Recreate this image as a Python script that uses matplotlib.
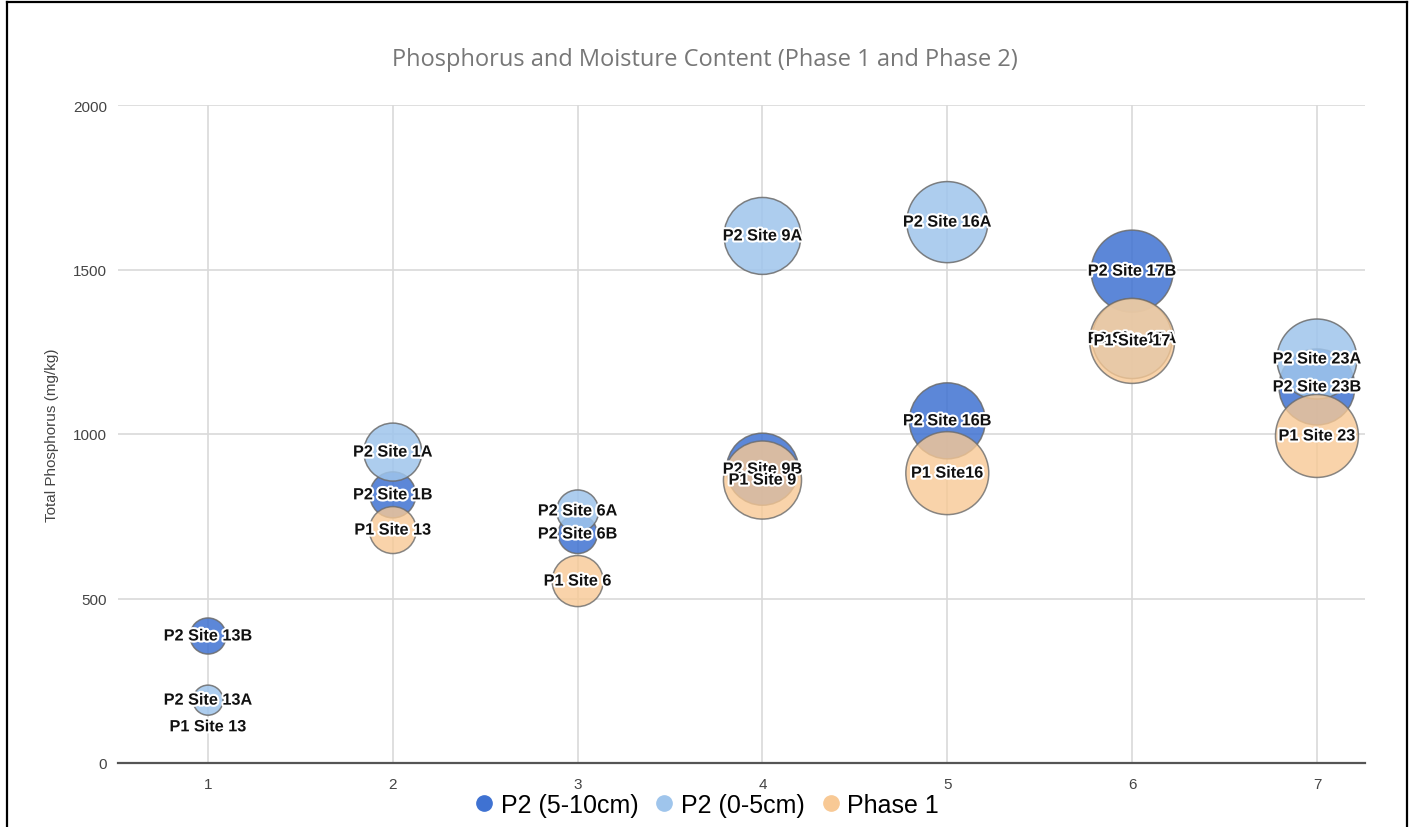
import matplotlib.pyplot as plt
import matplotlib.patheffects as pe
from matplotlib.lines import Line2D

plt.rcParams['font.family'] = ['Liberation Sans', 'DejaVu Sans']

# site slot on the x axis, total phosphorus (mg/kg), moisture content (%), label
p2_deep_x = [1, 2, 3, 4, 5, 6, 7]
p2_deep_p = [386, 815, 696, 893, 1040, 1495, 1143]
p2_deep_m = [18.9, 24.2, 20.5, 38.1, 40.2, 43.4, 40.2]
p2_deep_lbl = ['P2 Site 13B', 'P2 Site 1B', 'P2 Site 6B', 'P2 Site 9B',
               'P2 Site 16B', 'P2 Site 17B', 'P2 Site 23B']

p2_top_x = [1, 2, 3, 4, 5, 6, 7]
p2_top_p = [191, 945, 766, 1602, 1644, 1290, 1228]
p2_top_m = [15.7, 30.6, 22.1, 40.7, 42.9, 42.3, 42.3]
p2_top_lbl = ['P2 Site 13A', 'P2 Site 1A', 'P2 Site 6A', 'P2 Site 9A',
              'P2 Site 16A', 'P2 Site 17A', 'P2 Site 23A']

p1_x = [1, 2, 3, 4, 5, 6, 7]
p1_p = [110, 708, 553, 860, 881, 1283, 994]
p1_m = [5.0, 24.7, 26.9, 41.3, 43.9, 45.0, 43.9]
p1_lbl = ['P1 Site 13', 'P1 Site 13', 'P1 Site 6', 'P1 Site 9',
          'P1 Site16', 'P1 Site 17', 'P1 Site 23']

series = [
    ('P2 (5-10cm)', p2_deep_x, p2_deep_p, p2_deep_m, p2_deep_lbl, '#3f72d2', 0.85),
    ('P2 (0-5cm)', p2_top_x, p2_top_p, p2_top_m, p2_top_lbl, '#9fc5ec', 0.85),
    ('Phase 1', p1_x, p1_p, p1_m, p1_lbl, '#f8c995', 0.8),
]

all_m = p2_deep_m + p2_top_m + p1_m
m_lo, m_hi = min(all_m), max(all_m)
R_MIN, R_MAX = 5, 42.5   # bubble radius in pixels
DPI = 100


def bubble_area(m):
    r = R_MIN + (m - m_lo) / (m_hi - m_lo) * (R_MAX - R_MIN)
    d_pt = 2 * r * 72 / DPI
    return d_pt ** 2


fig = plt.figure(figsize=(14.16, 8.28), dpi=DPI)
ax = fig.add_axes([118 / 1416, 1 - 764 / 828, (1365 - 118) / 1416, (764 - 106) / 828])

handles = []
for i, (name, xs, ys, ms, lbls, col, a) in enumerate(series):
    ax.scatter(xs, ys, s=[bubble_area(m) for m in ms], color=col, alpha=a,
               edgecolors='#6b6b6b', linewidths=1.1, zorder=3 + i)
    handles.append(Line2D([], [], marker='o', ls='', color=col, markersize=11,
                          label=name))

halo = [pe.withStroke(linewidth=3, foreground='white')]
for i, (name, xs, ys, ms, lbls, col, a) in enumerate(series):
    for x, y, t in zip(xs, ys, lbls):
        ax.text(x, y, t, ha='center', va='center', fontsize=11.7,
                fontweight='bold', color='#111111', path_effects=halo,
                zorder=10 + i)

ax.set_xlim(0.513, 7.26)
ax.set_ylim(0, 2000)
ax.set_xticks(range(1, 8))
ax.set_yticks([0, 500, 1000, 1500, 2000])
ax.grid(True, color='#d9d9d9', lw=1.2)
ax.set_axisbelow(True)
for s in ['top', 'right', 'left']:
    ax.spines[s].set_visible(False)
ax.spines['bottom'].set_color('#555555')
ax.spines['bottom'].set_linewidth(1.6)
ax.tick_params(length=0, labelsize=11, colors='#444444', pad=10)
ax.tick_params(axis='y', pad=8)

ax.set_ylabel('Total Phosphorus (mg/kg)', fontsize=11, color='#444444', labelpad=10)
fig.text(705 / 1416, 1 - 60 / 828,
         'Phosphorus and Moisture Content (Phase 1 and Phase 2)',
         ha='center', va='center', fontsize=17, color='#777777',
         family=['Open Sans', 'DejaVu Sans'])

fig.legend(handles=handles, loc='center', bbox_to_anchor=(704 / 1416, 1 - 806 / 828),
           ncol=3, frameon=False, fontsize=18, handletextpad=0.05,
           columnspacing=0.45, borderpad=0, handlelength=1.2)

# outer frame of the screenshot
fig.add_artist(Line2D([7 / 1416, 7 / 1416], [0, 1 - 3 / 828], color='black', lw=1.6))
fig.add_artist(Line2D([1407 / 1416, 1407 / 1416], [0, 1 - 3 / 828], color='black', lw=1.6))
fig.add_artist(Line2D([7 / 1416, 1407 / 1416], [1 - 3 / 828, 1 - 3 / 828], color='black', lw=1.6))

fig.savefig('out.png', dpi=DPI, facecolor='white')
